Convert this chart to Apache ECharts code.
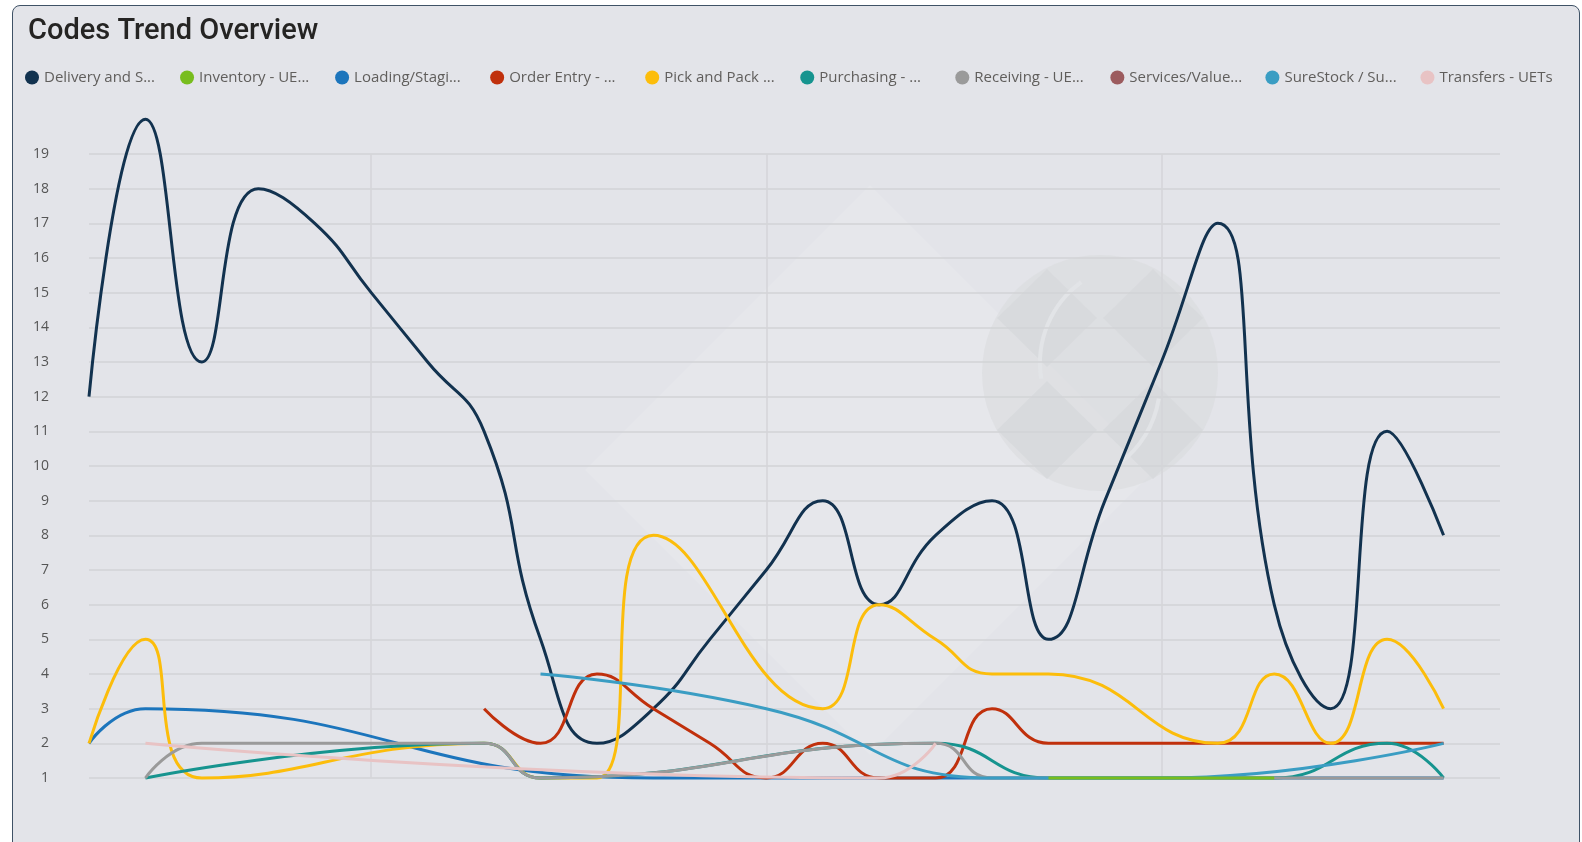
<!DOCTYPE html>
<html>
<head>
<meta charset="utf-8">
<script src="https://cdn.jsdelivr.net/npm/echarts@6/dist/echarts.min.js"></script>
<style>
  html, body { margin: 0; padding: 0; background: #fff; width: 1582px; height: 842px; overflow: hidden; }
  #card { position: absolute; left: 12px; top: 5px; width: 1568px; height: 870px; box-sizing: border-box;
          border: 1.5px solid #3f5266; border-radius: 8px; background: #e3e4e9; }
  #chart { position: absolute; left: 0; top: 0; width: 1582px; height: 842px; }
</style>
</head>
<body>
<div id="card"></div>
<div id="chart"></div>
<script>
const _ = null;

// days on the x axis (labels are hidden in the visual)
const days = ['1','2','3','4','5','6','7','8','9','10','11','12','13',
              '14','15','16','17','18','19','20','21','22','23','24','25','26'];

const seriesNames = ['Delivery and S...', 'Inventory - UE...', 'Loading/Stagi...', 'Order Entry - ...',
                     'Pick and Pack ...', 'Purchasing - ...', 'Receiving - UE...', 'Services/Value...',
                     'SureStock / Su...', 'Transfers - UETs'];
const seriesColors = ['#12324f', '#78bd1e', '#1c75bc', '#c0300c', '#fcbd0b',
                      '#16948f', '#9a9a9a', '#9c5b5e', '#3a9dc3', '#e8c3c4'];

// counts per day
const delivery   = [12,20,13,18,17,15,13,11,5,2,3,5,7,9,6,8,9,5,9,13,17,6,3,11,8];
const inventory  = [_,_,_,_,_,_,_,_,_,_,_,_,_,_,_,_,_,1,1,1,1,1,_,_,_];
const loading    = [2,3,_,_,_,_,_,_,_,_,1,_,_,_,_,_,_,_,_,_,_,_,_,_,1];
const orderEntry = [_,_,_,_,_,_,_,3,2,4,3,2,1,2,1,1,3,2,2,2,2,2,2,2,2];
const pickPack   = [2,5,1,_,_,_,_,2,1,1,8,_,_,3,6,5,4,4,_,_,2,4,2,5,3];
const purchasing = [_,1,_,_,_,_,_,2,1,_,_,_,_,_,_,2,_,1,_,_,_,1,_,2,1];
const receiving  = [_,1,2,_,_,_,_,2,1,_,_,_,_,_,_,2,1,_,_,_,_,_,_,_,1];
const services   = [_,_,_,_,_,_,_,_,_,_,_,_,_,_,_,_,_,_,_,_,_,_,_,_,_];
const sureStock  = [_,_,_,_,_,_,_,_,4,_,_,_,3,_,_,_,1,_,_,1,_,_,_,_,2];
const transfers  = [_,2,_,_,_,_,_,_,_,_,_,_,_,_,1,2,_,_,_,_,_,_,_,_,_];

const allData = [delivery, inventory, loading, orderEntry, pickPack,
                 purchasing, receiving, services, sureStock, transfers];

const yTicks = [1, 19];          // y axis from 1 to 19
const weekLines = [5, 12, 19];   // day indexes with vertical grid lines

const myChart = echarts.init(document.getElementById('chart'));

// faint logo watermark in the background
const cx = 1100, cy = 373;
function diamond(x, y, w, h) {
  return { type: 'polygon', shape: { points: [[x - w, y], [x, y - h], [x + w, y], [x, y + h]] },
           style: { fill: '#d8dadd' }, silent: true, z: -10 };
}
const watermark = [
  { type: 'polygon', shape: { points: [[585, 470], [870, 185], [1155, 470], [870, 755]] },
    style: { fill: 'rgba(255,255,255,0.12)' }, silent: true, z: -12 },
  { type: 'circle', shape: { cx: cx, cy: cy, r: 118 }, style: { fill: 'rgba(216,218,221,0.55)' }, silent: true, z: -11 },
  diamond(cx - 53, cy - 55, 50, 49),
  diamond(cx + 53, cy - 55, 50, 49),
  diamond(cx - 53, cy + 57, 50, 49),
  diamond(cx + 53, cy + 57, 50, 49),
  { type: 'arc', shape: { cx: cx + 40, cy: cy - 10, r: 100, startAngle: Math.PI * 0.95, endAngle: Math.PI * 1.3 },
    style: { stroke: '#e2e4e7', lineWidth: 4, fill: null }, silent: true, z: -9 },
  { type: 'arc', shape: { cx: cx - 40, cy: cy + 10, r: 100, startAngle: Math.PI * 0.05, endAngle: Math.PI * 0.3 },
    style: { stroke: '#e2e4e7', lineWidth: 4, fill: null }, silent: true, z: -9 }
];

// one legend box per series, laid out in equal slots like the visual
const legends = seriesNames.map((name, i) => ({
  left: 20 + i * 155.05,
  top: 65,
  icon: 'circle',
  itemWidth: 14,
  itemHeight: 14,
  data: [name],
  textStyle: { fontFamily: 'Open Sans', fontSize: 15, color: '#605e5c' }
}));

const option = {
  animation: false,
  title: {
    text: 'Codes Trend Overview',
    left: 23,
    top: 12,
    textStyle: { fontFamily: 'Roboto', fontSize: 29, fontWeight: 500, color: '#252423' }
  },
  legend: legends,
  graphic: watermark,
  grid: { left: 89, right: 82, top: 154, bottom: 64 },
  xAxis: {
    type: 'category',
    boundaryGap: false,
    data: days,
    axisLine: { show: false },
    axisTick: { show: false },
    axisLabel: { show: false },
    splitLine: {
      show: true,
      interval: (i) => weekLines.includes(i),
      lineStyle: { color: '#d4d5d8', width: 1.5 }
    }
  },
  yAxis: {
    type: 'value',
    min: yTicks[0],
    max: yTicks[1],
    interval: 1,
    axisLine: { show: false },
    axisTick: { show: false },
    axisLabel: { margin: 40, fontFamily: 'Open Sans', fontSize: 14, color: '#555' },
    splitLine: { lineStyle: { color: '#d2d3d6', width: 1.5 } }
  },
  series: seriesNames.map((name, i) => ({
    name: name,
    type: 'line',
    data: allData[i],
    smooth: 0.5,
    connectNulls: true,
    showSymbol: false,
    clip: false,
    z: i === 1 ? 4 : 2,
    color: seriesColors[i],
    lineStyle: { width: 3, color: seriesColors[i] },
    emphasis: { disabled: true }
  }))
};

myChart.setOption(option);
</script>
</body>
</html>
